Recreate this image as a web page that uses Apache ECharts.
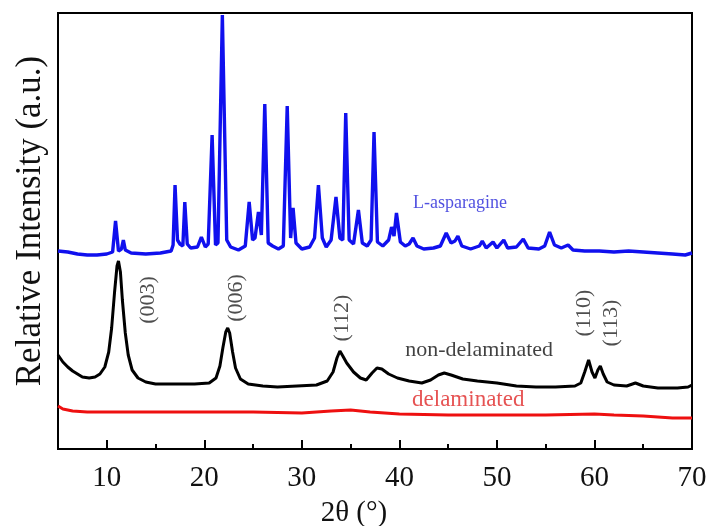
<!DOCTYPE html>
<html>
<head>
<meta charset="utf-8">
<script src="https://cdn.jsdelivr.net/npm/echarts@6/dist/echarts.min.js"></script>
<style>
  html, body { margin: 0; padding: 0; background: #fff; }
  #main { width: 711px; height: 526px; }
</style>
</head>
<body>
<div id="main"></div>
<script>
// 2theta (deg) and relative intensity (a.u.)
var aspTheta = [5.0, 6.0, 7.0, 8.0, 9.0, 10.0, 10.6, 10.9, 11.2, 11.5, 11.7, 11.9, 12.5, 14.0, 15.5, 16.6, 16.8, 17.0, 17.25, 17.5,
  17.8, 18.0, 18.25, 18.6, 19.3, 19.7, 20.1, 20.4, 20.8, 21.15, 21.4, 21.85, 22.3, 22.7, 23.5, 24.2, 24.6, 24.95, 25.2, 25.55,
  25.85, 26.2, 26.55, 27.0, 27.6, 28.1, 28.5, 28.85, 29.1, 29.4, 30.0, 30.8, 31.3, 31.7, 32.1, 32.5, 33.0, 33.5, 33.9, 34.2,
  34.5, 34.85, 35.3, 35.8, 36.2, 36.7, 37.1, 37.4, 37.75, 38.3, 38.9, 39.2, 39.45, 39.7, 40.1, 40.6, 41.0, 41.4, 41.8, 42.5,
  43.5, 44.2, 44.8, 45.3, 45.7, 46.0, 46.4, 47.3, 48.2, 48.5, 48.9, 49.6, 50.0, 50.7, 51.1, 52.0, 52.7, 53.2, 54.3, 54.9,
  55.4, 55.9, 56.6, 57.3, 57.8, 59.0, 60.5, 62.0, 63.5, 65.0, 66.5, 68.0, 69.3, 70.0];
var aspInt = [198, 197, 195, 194, 194, 195, 197, 228, 198, 200, 209, 199, 196, 195, 196, 198, 204, 264, 209, 205,
  203, 247, 205, 201, 202, 212, 202, 205, 314, 204, 206, 434, 209, 202, 199, 203, 247, 209, 211, 237,
  214, 345, 206, 203, 200, 203, 343, 211, 241, 206, 200, 202, 211, 264, 211, 202, 209, 252, 211, 209,
  336, 209, 205, 239, 206, 203, 209, 317, 207, 203, 209, 222, 213, 236, 207, 203, 205, 211, 203, 200,
  201, 203, 216, 206, 208, 213, 203, 200, 203, 208, 201, 207, 201, 209, 201, 202, 210, 201, 200, 203,
  217, 204, 201, 204, 199, 198, 198, 197, 198, 197, 196, 195, 194, 196];

var nonTheta = [5.0, 5.5, 6.0, 6.5, 7.0, 7.5, 8.2, 8.8, 9.3, 9.8, 10.2, 10.5, 10.8, 11.05, 11.2, 11.4, 11.6, 11.9, 12.2, 12.6,
  13.2, 14.0, 15.0, 17.0, 19.0, 20.5, 21.2, 21.6, 21.9, 22.2, 22.4, 22.6, 22.9, 23.2, 23.7, 24.5, 26.0, 27.5, 29.5, 31.5,
  32.6, 33.2, 33.6, 33.9, 34.2, 34.6, 35.3, 36.0, 36.6, 37.2, 37.7, 38.2, 38.9, 39.8, 41.0, 42.3, 43.2, 44.0, 44.6, 45.3,
  46.5, 48.0, 50.0, 52.0, 54.0, 56.0, 58.0, 58.6, 59.0, 59.4, 59.75, 60.05, 60.35, 60.6, 60.9, 61.3, 62.0, 63.3, 64.2, 65.0,
  66.5, 68.5, 69.6, 70.0];
var nonInt = [94, 87, 82, 78, 75, 72, 71, 72, 75, 82, 97, 121, 157, 183, 188, 177, 149, 116, 94, 79,
  71, 67, 65, 65, 65, 66, 71, 83, 101, 117, 121, 116, 97, 81, 70, 65, 63, 62, 63, 64,
  68, 77, 91, 98, 93, 86, 77, 71, 69, 76, 81, 80, 75, 71, 68, 66, 69, 74, 76, 74,
  70, 68, 66, 63, 62, 62, 63, 66, 77, 89, 77, 71, 79, 83, 75, 67, 64, 63, 66, 63,
  61, 61, 62, 64];

var delTheta = [5.0, 5.5, 6.5, 8.0, 12.0, 18.0, 25.0, 30.0, 33.0, 35.0, 37.0, 40.0, 45.0, 50.0, 55.0, 60.0, 62.0, 65.0, 68.0, 70.0];
var delInt = [43, 40, 38, 37, 37, 37, 37, 36, 38, 39, 37, 35, 34, 34, 34, 35, 34, 33, 31, 31];

var xTicks = [10, 20, 30, 40, 50, 60, 70];
var xMinorTicks = [15, 25, 35, 45, 55, 65];

// annotation texts, anchored at [2theta, intensity]
var notes = [
  { text: 'L-asparagine', at: [41.4, 246], color: '#2626d8', size: 18, rotate: 0, align: 'left' },
  { text: 'non-delaminated', at: [40.6, 99], color: '#111', size: 22, rotate: 0, align: 'left' },
  { text: 'delaminated', at: [41.3, 49], color: '#e02828', size: 23, rotate: 0, align: 'left' },
  { text: '(003)', at: [14.3, 149], color: '#222', size: 22, rotate: 90, align: 'center' },
  { text: '(006)', at: [23.3, 151], color: '#222', size: 22, rotate: 90, align: 'center' },
  { text: '(112)', at: [34.1, 131], color: '#222', size: 22, rotate: 90, align: 'center' },
  { text: '(110)', at: [59.0, 136], color: '#222', size: 22, rotate: 90, align: 'center' },
  { text: '(113)', at: [61.7, 126], color: '#222', size: 22, rotate: 90, align: 'center' }
];

function zip(xs, ys) {
  return xs.map(function (x, i) { return [x, ys[i]]; });
}

var serif = '"Liberation Serif", "DejaVu Serif", serif';
var chart = echarts.init(document.getElementById('main'));

chart.setOption({
  animation: false,
  textStyle: { fontFamily: serif },
  grid: {
    left: 58, right: 19, top: 13, bottom: 77,
    outerBoundsMode: 'none', containLabel: false,
    show: true, borderColor: '#000', borderWidth: 2, backgroundColor: 'transparent'
  },
  xAxis: [{
    type: 'value', min: 5, max: 70,
    name: '2θ (°)', nameLocation: 'middle', nameGap: 50,
    nameTextStyle: { fontFamily: serif, fontSize: 29, color: '#111', padding: [0, 42, 0, 0] },
    axisLine: { show: true, lineStyle: { color: '#000', width: 2 } },
    axisTick: { show: true, inside: true, length: 9, customValues: xTicks, lineStyle: { color: '#000', width: 2 } },
    axisLabel: { customValues: xTicks, fontFamily: serif, fontSize: 29, color: '#111', margin: 15 },
    splitLine: { show: false }
  }, {
    type: 'value', min: 5, max: 70, position: 'bottom',
    axisLine: { show: false },
    axisTick: { show: true, inside: true, length: 5, customValues: xMinorTicks, lineStyle: { color: '#000', width: 2 } },
    axisLabel: { show: false },
    splitLine: { show: false }
  }],
  yAxis: {
    type: 'value', min: 0, max: 436,
    name: 'Relative Intensity (a.u.)', nameLocation: 'middle', nameGap: 10,
    nameTextStyle: { fontFamily: serif, fontSize: 35, color: '#111', padding: [0, 0, 0, 20] },
    axisLine: { show: true, lineStyle: { color: '#000', width: 2 } },
    axisTick: { show: false },
    axisLabel: { show: false },
    splitLine: { show: false }
  },
  series: [{
    name: 'L-asparagine', type: 'line', showSymbol: false, symbol: 'none',
    lineStyle: { color: '#1010ee', width: 3.4 },
    data: zip(aspTheta, aspInt)
  }, {
    name: 'non-delaminated', type: 'line', showSymbol: false, symbol: 'none',
    lineStyle: { color: '#000', width: 3 },
    data: zip(nonTheta, nonInt)
  }, {
    name: 'delaminated', type: 'line', showSymbol: false, symbol: 'none',
    lineStyle: { color: '#ee1010', width: 3 },
    data: zip(delTheta, delInt)
  }, {
    type: 'scatter', symbolSize: 0, silent: true, z: 5,
    data: notes.map(function (n) {
      return {
        value: n.at,
        label: {
          show: true, position: 'inside', formatter: n.text, rotate: n.rotate,
          align: n.align, verticalAlign: 'middle',
          color: n.color, fontFamily: serif, fontSize: n.size
        }
      };
    })
  }]
});
</script>
</body>
</html>
